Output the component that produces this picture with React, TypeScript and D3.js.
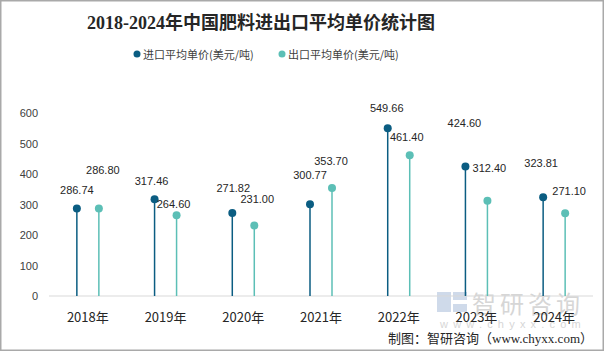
import React from 'react';
import * as d3 from 'd3';

const years = ['2018年', '2019年', '2020年', '2021年', '2022年', '2023年', '2024年'];
const importPrice = [286.74, 317.46, 271.82, 300.77, 549.66, 424.6, 323.81];
const exportPrice = [286.8, 264.6, 231.0, 353.7, 461.4, 312.4, 271.1];
const yTicks = [0, 100, 200, 300, 400, 500, 600];
const seriesNames = ['进口平均单价(美元/吨)', '出口平均单价(美元/吨)'];

// label nudges (relative to the dot), mimicking the original layout
const importNudge = [[0, -18.5], [-3, -18], [1, -25], [0, -29], [-1, -20], [-1, -43], [-2, -34]];
const exportNudge = [[4, -39], [-3, -11], [3, -27], [-1, -27], [-3, -18], [2, -33], [4, -22]];

const W = 605;
const H = 351;
const margin = { top: 113, right: 12, bottom: 55, left: 49 };
const IMPORT_COLOR = '#0b5d82';
const EXPORT_COLOR = '#5cbfb6';
const numFont = '"Liberation Sans", "Noto Sans CJK SC", sans-serif';
const cjkFont = '"Noto Sans CJK SC", "Liberation Sans", sans-serif';

const App = () => {
  const x = d3.scaleBand<string>()
    .domain(years)
    .range([margin.left, W - margin.right])
    .padding(0);

  const y = d3.scaleLinear()
    .domain([0, 600])
    .range([H - margin.bottom, margin.top]);

  const cx = (d: string) => (x(d) as number) + x.bandwidth() / 2;
  const off = 11;
  const fmt = d3.format('.2f');

  const series = [
    { values: importPrice, color: IMPORT_COLOR, dx: -off, nudge: importNudge },
    { values: exportPrice, color: EXPORT_COLOR, dx: off, nudge: exportNudge },
  ];

  return (
    <svg width={W} height={H} style={{ position: 'absolute', left: 0, top: 0, background: '#fff' }}>
      <rect x={0.75} y={0.75} width={W - 2.5} height={H - 1.5} fill="#fff" stroke="#a9a9a9" strokeWidth={1.5} />

      <text x={261} y={23} textAnchor="middle" dominantBaseline="central"
        fontFamily={'"Liberation Serif", "Noto Sans CJK SC", serif'} fontWeight="bold" fontSize={18} fill="#262626">
        2018-2024年中国肥料进出口平均单价统计图
      </text>

      {/* legend */}
      {seriesNames.map((name, i) => {
        const lx = i === 0 ? 137 : 282;
        return (
          <g key={name}>
            <circle cx={lx} cy={54} r={3.5} fill={i === 0 ? IMPORT_COLOR : EXPORT_COLOR} />
            <text x={lx + 6} y={54} dominantBaseline="central" fontFamily={cjkFont} fontSize={11} fill="#404040">
              {name}
            </text>
          </g>
        );
      })}

      {/* y axis labels */}
      {yTicks.map(t => (
        <text key={t} x={38} y={y(t)} textAnchor="end" dominantBaseline="central"
          fontFamily={numFont} fontSize={11} fill="#404040">{t}</text>
      ))}

      {/* watermark */}
      <g opacity={0.55}>
        <rect x={437} y={292} width={14} height={20} fill="#a9bcd9" />
        <rect x={453} y={292} width={14} height={8} fill="#a9bcd9" />
        <rect x={453} y={304} width={14} height={8} fill="#a9bcd9" />
        <text x={472} y={302} dominantBaseline="central" fontFamily={cjkFont} fontSize={24} fill="#b5b5b5" letterSpacing={4}>智研咨询</text>
        <text x={513} y={324} textAnchor="middle" dominantBaseline="central" fontFamily={numFont} fontSize={11} fill="#b5b5b5" letterSpacing={5.2}>www.chyxx.com</text>
      </g>

      {/* baseline */}
      <line x1={margin.left} x2={W - margin.right} y1={y(0)} y2={y(0)} stroke="#d9d9d9" strokeWidth={1} />

      {/* lollipops */}
      {series.map((s, si) => (
        <g key={si}>
          {years.map((yr, i) => {
            const px = cx(yr) + s.dx;
            const py = y(s.values[i]);
            return (
              <g key={yr}>
                <line x1={px} x2={px} y1={y(0)} y2={py} stroke={s.color} strokeWidth={1.5} />
                <circle cx={px} cy={py} r={4} fill={s.color} />
                <text x={px + s.nudge[i][0]} y={py + s.nudge[i][1]} textAnchor="middle" dominantBaseline="central"
                  fontFamily={numFont} fontSize={11} fill="#262626">{fmt(s.values[i])}</text>
              </g>
            );
          })}
        </g>
      ))}

      {/* x axis labels */}
      {years.map(yr => (
        <text key={yr} x={cx(yr)} y={316} textAnchor="middle" dominantBaseline="central"
          fontFamily={cjkFont} fontSize={13} fill="#262626">{yr}</text>
      ))}

      <text x={593} y={338} textAnchor="end" dominantBaseline="central"
        fontFamily={'"Liberation Serif", "Noto Sans CJK SC", serif'} fontSize={13} fill="#262626">
        制图：智研咨询（www.chyxx.com）
      </text>
    </svg>
  );
};

export default App;
